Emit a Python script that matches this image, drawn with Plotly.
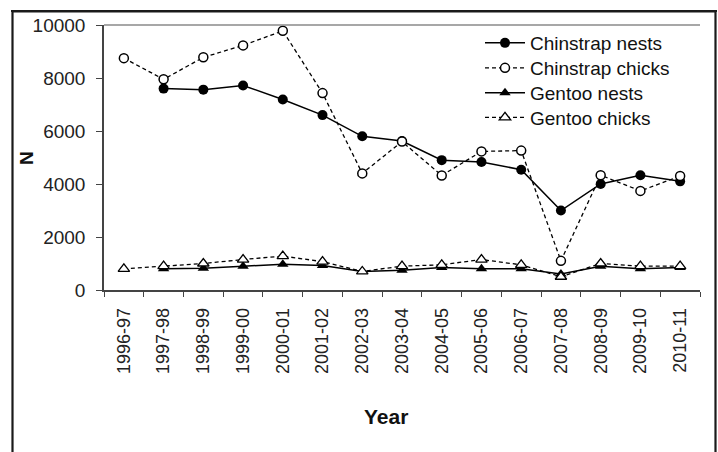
import plotly.graph_objects as go

years = ["1996-97", "1997-98", "1998-99", "1999-00", "2000-01", "2001-02", "2002-03",
         "2003-04", "2004-05", "2005-06", "2006-07", "2007-08", "2008-09", "2009-10", "2010-11"]

chinstrap_nests = [None, 7600, 7560, 7720, 7190, 6600, 5800, 5620, 4900, 4830, 4540, 3000, 4000, 4330, 4100]
chinstrap_chicks = [8750, 7950, 8780, 9230, 9780, 7430, 4400, 5600, 4320, 5230, 5260, 1100, 4330, 3740, 4300]
gentoo_nests = [None, 800, 820, 900, 970, 920, 700, 750, 850, 800, 800, 600, 900, 800, 850]
gentoo_chicks = [800, 900, 1000, 1150, 1280, 1070, 700, 900, 950, 1150, 950, 500, 1000, 900, 900]

y_ticks = [0, 2000, 4000, 6000, 8000, 10000]

FONT = "Liberation Sans, Arial, sans-serif"

# plot area in pixels
W, H = 718, 452
L, R, T, B = 104, 700, 25, 290


def px_x(p):
    return (p - L) / (R - L)


def px_y(p):
    return (B - p) / (B - T)


fig = go.Figure()

fig.add_trace(go.Scatter(
    x=years, y=chinstrap_nests, name="Chinstrap nests", mode="lines+markers",
    line=dict(color="black", width=1.5),
    marker=dict(symbol="circle", size=10, color="black"),
    legend="legend",
))
fig.add_trace(go.Scatter(
    x=years, y=chinstrap_chicks, name="Chinstrap chicks", mode="lines+markers",
    line=dict(color="black", width=1.3, dash="4px,3px"),
    marker=dict(symbol="circle", size=9, color="white", line=dict(color="black", width=1.5)),
    legend="legend2",
))
fig.add_trace(go.Scatter(
    x=years, y=gentoo_nests, name="Gentoo nests", mode="lines+markers",
    line=dict(color="black", width=1.5),
    marker=dict(symbol="triangle-up", size=10, color="black"),
    legend="legend3",
))
fig.add_trace(go.Scatter(
    x=years, y=gentoo_chicks, name="Gentoo chicks", mode="lines+markers",
    line=dict(color="black", width=1.3, dash="4px,3px"),
    marker=dict(symbol="triangle-up", size=10, color="white", line=dict(color="black", width=1.3)),
    legend="legend4",
))

frame = dict(color="#1a1a1a", width=2.2)
fx0, fx1, fy_top, fy_bot = px_x(12.5), px_x(715.5), px_y(11.5), px_y(460)
shapes = [
    # outer frame (left, top, right)
    dict(type="line", xref="paper", yref="paper", x0=fx0, x1=fx0, y0=fy_bot, y1=fy_top, line=frame),
    dict(type="line", xref="paper", yref="paper", x0=fx0, x1=fx1, y0=fy_top, y1=fy_top, line=frame),
    dict(type="line", xref="paper", yref="paper", x0=fx1, x1=fx1, y0=fy_bot, y1=fy_top, line=frame),
    # top border of plot area
    dict(type="line", xref="paper", yref="paper", x0=0, x1=1, y0=1, y1=1,
         line=dict(color="#8a8a8a", width=1.5)),
]


def leg(yc):
    return dict(
        x=px_x(480), y=px_y(yc), xanchor="left", yanchor="middle",
        bgcolor="rgba(0,0,0,0)", borderwidth=0,
        font=dict(family=FONT, size=19, color="#111"),
        itemwidth=40,
    )


fig.update_layout(
    width=W, height=H,
    margin=dict(l=L, r=W - R, t=T, b=H - B),
    paper_bgcolor="white", plot_bgcolor="white",
    font=dict(family=FONT, size=18, color="#222"),
    showlegend=True,
    legend=leg(43), legend2=leg(68), legend3=leg(93), legend4=leg(117.5),
    shapes=shapes,
    annotations=[
        dict(text="<b>N</b>", xref="paper", yref="paper", x=px_x(26), y=px_y(158),
             showarrow=False, textangle=-90, font=dict(family=FONT, size=19, color="#111"),
             xanchor="center", yanchor="middle"),
        dict(text="<b>Year</b>", xref="paper", yref="paper", x=px_x(386), y=px_y(416),
             showarrow=False, font=dict(family=FONT, size=21, color="#111"),
             xanchor="center", yanchor="middle"),
    ],
)

fig.update_xaxes(
    type="category", categoryorder="array", categoryarray=years,
    range=[-0.5, len(years) - 0.5],
    showline=True, linecolor="#444", linewidth=1.5,
    ticks="outside", ticklen=5, tickwidth=1.2, tickcolor="#444",
    tickson="boundaries", tickangle=-90, ticklabelstandoff=9,
    tickfont=dict(family=FONT, size=18, color="#222"),
    showgrid=False, zeroline=False,
)
fig.update_yaxes(
    range=[0, 10000], tickvals=y_ticks, ticktext=[str(v) for v in y_ticks],
    showline=True, linecolor="#444", linewidth=1.5,
    ticks="outside", ticklen=6, tickwidth=1.2, tickcolor="#444",
    ticklabelstandoff=7,
    tickfont=dict(family=FONT, size=19, color="#222"),
    showgrid=False, zeroline=False,
)

post = (
    "document.body.style.margin='0';document.body.style.overflow='hidden';"
    "try{var d=document.createElement('div');"
    "d.style.cssText='position:absolute;left:11px;top:10px;width:706px;height:0;"
    "border-top:2px solid #1a1a1a;pointer-events:none;z-index:1000;';"
    "document.body.appendChild(d);}catch(e){}"
)

fig.write_html(
    "out.html",
    config={"displayModeBar": False},
    post_script=post,
)
